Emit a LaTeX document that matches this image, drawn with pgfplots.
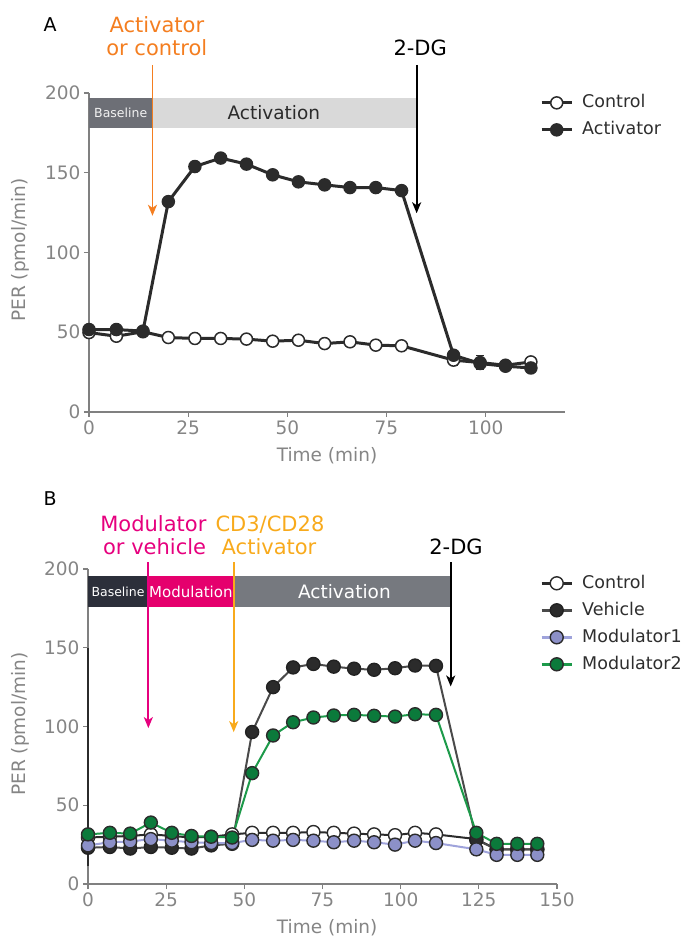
\documentclass[border=0pt]{standalone}
\usepackage{fontspec}
\setmainfont{DejaVu Sans}
\usepackage{pgfplots}
\pgfplotsset{compat=1.18}
\usetikzlibrary{arrows.meta}
\definecolor{darkc}{HTML}{2B2B2B}
\definecolor{axisgray}{HTML}{808080}
\definecolor{tickgray}{HTML}{858585}
\definecolor{baseA}{HTML}{6D6F76}
\definecolor{actA}{HTML}{D9D9D9}
\definecolor{baseB}{HTML}{2C2F3A}
\definecolor{modB}{HTML}{E5006D}
\definecolor{actB}{HTML}{76797F}
\definecolor{orangeA}{HTML}{F47E20}
\definecolor{amberB}{HTML}{F8AA1C}
\definecolor{magB}{HTML}{E6007E}
\definecolor{lavline}{HTML}{9FA3DB}
\definecolor{lavfill}{HTML}{8C90C8}
\definecolor{grnline}{HTML}{1D9A4A}
\definecolor{grnfill}{HTML}{0B7A3B}
\definecolor{vehline}{HTML}{4A4A4A}
\newcommand{\fs}[1]{\fontsize{#1}{#1}\selectfont}
\tikzset{myarrow/.style={line width=1.8pt, -{Stealth[length=11pt,width=9pt,inset=3pt]}}}
\pgfplotsset{
  mystyle/.style={
    scale only axis, clip=false,
    axis x line*=bottom, axis y line*=left,
    axis line style={draw=axisgray, line width=1.2pt},
    every tick/.style={draw=axisgray, line width=1.2pt},
    major tick length=5pt, tick align=outside,
    ymin=0, ymax=200, ytick={0,50,100,150,200},
    tick label style={font=\fs{18.5}, text=tickgray},
    /pgf/number format/assume math mode=true,
    label style={font=\fs{18.5}, text=tickgray},
    ylabel={PER (pmol/min)},
    xlabel={Time (min)},
    legend cell align=left,
    legend style={draw=none, fill=none, inner sep=0pt, row sep=7pt,
      font=\fs{17.5}, column sep=8pt, text=black!82,
      nodes={inner sep=1pt, text height=14pt, text depth=4pt}},
    legend image code/.code={%
      \draw[##1, line width=3pt] (0pt,0pt) -- (30pt,0pt);
      \path[##1] plot coordinates {(15pt,0pt)};},
  }
}
\begin{document}
\begin{tikzpicture}[x=1pt,y=1pt]
\useasboundingbox (0,0) rectangle (687,939);
\node[anchor=base west, font=\fs{19}] at (40,907) {A};
\node[anchor=base west, font=\fs{19}] at (40,433) {B};
% ---------------- Panel A
\begin{axis}[mystyle, at={(89pt,527pt)}, anchor=south west,
  width=476pt, height=319pt, xmin=0, xmax=120, xtick={0,25,50,75,100},
  xlabel style={at={(rel axis cs:0.5,-0.138)}, anchor=center},
  ylabel style={at={(rel axis cs:-0.145,0.508)}, anchor=center},
  legend style={at={(rel axis cs:0.9475,1.001)}, anchor=north west},
]
\fill[baseA] (axis cs:0,178) rectangle (axis cs:16,197);
\fill[actA] (axis cs:16,178) rectangle (axis cs:82.6,197);
\node[font=\fs{12.5}, text=white!90!gray, inner sep=0pt] at (axis cs:8,187.5) {Baseline};
\node[font=\fs{18.5}, text=darkc, inner sep=0pt] at (axis cs:46.6,187.5) {Activation};
\draw[orangeA, myarrow] (axis cs:16,217.6) -- (axis cs:16,123);
\draw[black, myarrow] (axis cs:82.6,217.6) -- (axis cs:82.6,124.6);
\node[font=\fs{21}, text=orangeA, anchor=base, inner sep=0pt] at (axis cs:17.1,238) {Activator};
\node[font=\fs{21}, text=orangeA, anchor=base, inner sep=0pt] at (axis cs:17.1,223.8) {or control};
\node[font=\fs{21}, text=black, anchor=base, inner sep=0pt] at (axis cs:83.5,223.8) {2-DG};
\addplot[forget plot, draw=none, mark=none, error bars/.cd, y dir=both, y explicit,
  error bar style={draw=darkc, line width=1.2pt},
  error mark options={draw=darkc, rotate=90, mark size=4pt, line width=1.2pt}]
  coordinates {(91.9,32.5) +- (0,3.5) (98.6,31) +- (0,4.5)};
\addplot[darkc, line width=3pt, mark=*, mark size=6pt,
  mark options={solid, fill=white, draw=darkc, line width=1.5pt}] coordinates {
(0,49.8) (6.9,47.5) (13.6,50.3) (20.0,46.7) (26.7,46.1) (33.2,46.1) (39.7,45.7)
(46.3,44.4) (52.8,45.0) (59.4,42.9) (65.8,44.0) (72.3,41.9) (78.8,41.5)
(91.9,32.5) (98.6,31.0) (105.0,29.3) (111.4,31.4)};
\addlegendentry{Control}
\addplot[darkc, line width=3pt, mark=*, mark size=6pt,
  mark options={solid, fill=darkc, draw=darkc, line width=1.5pt}] coordinates {
(0,51.7) (6.9,51.7) (13.6,50.7) (20.0,131.9) (26.7,153.9) (33.2,159.2) (39.7,155.4)
(46.3,148.7) (52.8,144.3) (59.4,142.4) (65.8,140.7) (72.3,140.7) (78.8,138.8)
(91.9,35.6) (98.6,30.4) (105.0,28.7) (111.4,27.6)};
\addlegendentry{Activator}
\end{axis}
% ---------------- Panel B
\begin{axis}[mystyle, at={(88pt,55pt)}, anchor=south west,
  width=469pt, height=315pt, xmin=0, xmax=150, xtick={0,25,50,75,100,125,150},
  xlabel style={at={(rel axis cs:0.51,-0.14)}, anchor=center},
  ylabel style={at={(rel axis cs:-0.145,0.508)}, anchor=center},
  legend style={at={(rel axis cs:0.9638,0.987)}, anchor=north west},
]
\draw[darkc, line width=1.4pt] (axis cs:0,11.2) -- (axis cs:0,149.7);
\fill[baseB] (axis cs:0,176.1) rectangle (axis cs:19.3,195.3);
\fill[modB] (axis cs:19.3,176.1) rectangle (axis cs:46.6,195.3);
\fill[actB] (axis cs:46.6,176.1) rectangle (axis cs:116,195.3);
\node[font=\fs{12.5}, text=white, inner sep=0pt] at (axis cs:9.6,185.7) {Baseline};
\node[font=\fs{15}, text=white, inner sep=0pt] at (axis cs:32.9,185.7) {Modulation};
\node[font=\fs{18.5}, text=white, inner sep=0pt] at (axis cs:82,185.7) {Activation};
\draw[magB, myarrow] (axis cs:19.3,204.4) -- (axis cs:19.3,99);
\draw[amberB, myarrow] (axis cs:46.6,204.4) -- (axis cs:46.6,96.4);
\draw[black, myarrow] (axis cs:116,204.4) -- (axis cs:116,125.4);
\node[font=\fs{21}, text=magB, anchor=base, inner sep=0pt] at (axis cs:20.9,223.7) {Modulator};
\node[font=\fs{21}, text=magB, anchor=base, inner sep=0pt] at (axis cs:21.3,208.9) {or vehicle};
\node[font=\fs{21}, text=amberB, anchor=base, inner sep=0pt] at (axis cs:58.2,223.7) {CD3/CD28};
\node[font=\fs{21}, text=amberB, anchor=base, inner sep=0pt] at (axis cs:57.9,208.9) {Activator};
\node[font=\fs{21}, text=black, anchor=base, inner sep=0pt] at (axis cs:117.7,208.9) {2-DG};
\addplot[darkc, line width=2pt, mark=*, mark size=6.5pt,
  mark options={solid, fill=white, draw=darkc, line width=1.4pt}] coordinates {
(0,29.5) (7.0,30) (13.5,30.5) (20.1,31.5) (26.8,30.5) (33.1,29.5) (39.4,30) (46.1,31.5)
(52.5,32.5) (59.2,32.5) (65.6,32.5) (72.1,33) (78.6,32.5) (85.1,32) (91.5,31.5)
(98.2,31) (104.6,32.5) (111.3,31.5) (124.2,28.5) (130.7,22) (137.3,22) (143.7,22)};
\addlegendentry{Control}
\addplot[vehline, line width=2pt, mark=*, mark size=6.5pt,
  mark options={solid, fill=darkc, draw=darkc!80!black, line width=1.4pt}] coordinates {
(0,23) (7.0,23.5) (13.5,22.5) (20.1,23.5) (26.8,23) (33.1,22.5) (39.4,24.5) (46.1,25.5)
(52.5,96.5) (59.2,125) (65.6,137.5) (72.1,139.7) (78.6,138) (85.1,136.7) (91.5,136)
(98.2,137) (104.6,138.7) (111.3,138.5) (124.2,28) (130.7,22) (137.3,22) (143.7,22)};
\addlegendentry{Vehicle}
\addplot[lavline, line width=2pt, mark=*, mark size=6.5pt,
  mark options={solid, fill=lavfill, draw=darkc, line width=1.4pt}] coordinates {
(0,24.5) (7.0,26.5) (13.5,27) (20.1,28.5) (26.8,27.5) (33.1,26.5) (39.4,26) (46.1,26)
(52.5,28) (59.2,27.5) (65.6,28) (72.1,27.5) (78.6,26.5) (85.1,27.5) (91.5,26.5)
(98.2,25) (104.6,27.5) (111.3,26) (124.2,22) (130.7,18.5) (137.3,18.5) (143.7,18.5)};
\addlegendentry{Modulator1}
\addplot[grnline, line width=2pt, mark=*, mark size=6.5pt,
  mark options={solid, fill=grnfill, draw=darkc, line width=1.4pt}] coordinates {
(0,31.5) (7.0,32.5) (13.5,32) (20.1,39) (26.8,32.5) (33.1,30.5) (39.4,30) (46.1,29.5)
(52.5,70.4) (59.2,94.3) (65.6,102.7) (72.1,105.7) (78.6,107) (85.1,107.4) (91.5,106.8)
(98.2,106.3) (104.6,107.8) (111.3,107.4) (124.2,32.5) (130.7,25.5) (137.3,25.5) (143.7,25.5)};
\addlegendentry{Modulator2}
\end{axis}
\end{tikzpicture}
\end{document}
